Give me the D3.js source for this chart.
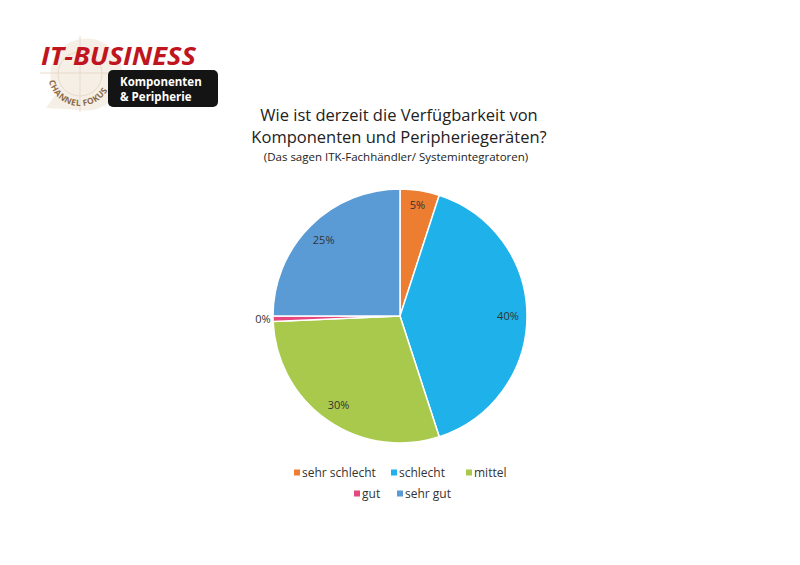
<!DOCTYPE html>
<html><head><meta charset="utf-8">
<script src="https://cdn.jsdelivr.net/npm/d3@7"></script>
<style>body{margin:0;background:#fff}svg{display:block}text{font-family:"Open Sans","Noto Sans",sans-serif}</style>
</head><body><svg id="c" width="800" height="565"></svg>
<script>
const categories = ["sehr schlecht","schlecht","mittel","gut","sehr gut"];
const values = [5, 40, 29.3, 0.7, 25];
const labels = ["5%","40%","30%","0%","25%"];
const colors = ["#ED7D31","#1FB1EA","#A8C94C","#E5487D","#5B9BD5"];

const svg = d3.select("#c");
// logo
const logo = svg.append("g");
logo.append("path").attr("d","M46,108 L56,94 A36,36 0 1 1 80,110 Z").attr("fill","#f6efe6");
logo.append("circle").attr("cx",80).attr("cy",74).attr("r",22).attr("fill","none").attr("stroke","#e6dacb").attr("stroke-width",1);
logo.append("line").attr("x1",80).attr("y1",36).attr("x2",80).attr("y2",112).attr("stroke","#e6dacb");
logo.append("line").attr("x1",40).attr("y1",73).attr("x2",118).attr("y2",73).attr("stroke","#e6dacb");
logo.append("rect").attr("x",108).attr("y",70).attr("width",110).attr("height",37).attr("rx",5).attr("fill","#141414");
logo.append("text").attr("x",41).attr("y",65).attr("font-size",25).attr("font-weight","bold").attr("font-style","italic")
  .attr("fill","#c0151f").attr("font-family","'Liberation Sans Narrow','DejaVu Sans Condensed',sans-serif").attr("textLength",155).attr("lengthAdjust","spacingAndGlyphs").text("IT-BUSINESS");
logo.append("text").attr("x",120).attr("y",86).attr("font-size",11.5).attr("font-weight","bold").attr("fill","#fff").text("Komponenten");
logo.append("text").attr("x",120).attr("y",100.5).attr("font-size",11.5).attr("font-weight","bold").attr("fill","#fff").text("& Peripherie");
const ap = d3.path(); ap.arc(80,74,32,Math.PI*0.93,Math.PI*0.07,true);
logo.append("path").attr("id","arcp").attr("d",ap.toString()).attr("fill","none");
logo.append("text").attr("font-size",8.5).attr("font-weight","bold").attr("fill","#8a6a48")
  .append("textPath").attr("href","#arcp").attr("textLength",76).text("CHANNEL FOKUS");

// title
const t = svg.append("g").attr("text-anchor","middle").attr("fill","#222");
t.append("text").attr("x",399).attr("y",121).attr("font-size",16.5).text("Wie ist derzeit die Verfügbarkeit von");
t.append("text").attr("x",399).attr("y",143).attr("font-size",16.5).text("Komponenten und Peripheriegeräten?");
t.append("text").attr("x",396).attr("y",161).attr("font-size",11.5).text("(Das sagen ITK-Fachhändler/ Systemintegratoren)");

// pie
const cx=400, cy=316, r=127;
const pie = d3.pie().sort(null).value(d=>d)(values);
const arc = d3.arc().innerRadius(0).outerRadius(r);
const g = svg.append("g").attr("transform",`translate(${cx},${cy})`);
g.selectAll("path").data(pie).join("path").attr("d",arc).attr("fill",(d,i)=>colors[i]).attr("stroke","#fff").attr("stroke-width",1.5);
const lblR = [0.88,0.85,0.85,1.08,0.85];
g.selectAll("text").data(pie).join("text")
  .attr("transform",(d,i)=>{const a=(d.startAngle+d.endAngle)/2; const rr=r*lblR[i]; return `translate(${Math.sin(a)*rr},${-Math.cos(a)*rr})`;})
  .attr("text-anchor","middle").attr("dy","0.35em").attr("font-size",11).attr("fill","#333").text((d,i)=>labels[i]);

// legend
const leg = [[0,294,473],[1,391,473],[2,466,473],[3,354,494],[4,397,494]];
const lg = svg.append("g");
leg.forEach(([i,x,y])=>{
  lg.append("rect").attr("x",x).attr("y",y-3.5).attr("width",6).attr("height",6).attr("fill",colors[i]);
  lg.append("text").attr("x",x+8).attr("y",y).attr("dy","0.35em").attr("font-size",12).attr("fill","#333").text(categories[i]);
});
</script></body></html>
